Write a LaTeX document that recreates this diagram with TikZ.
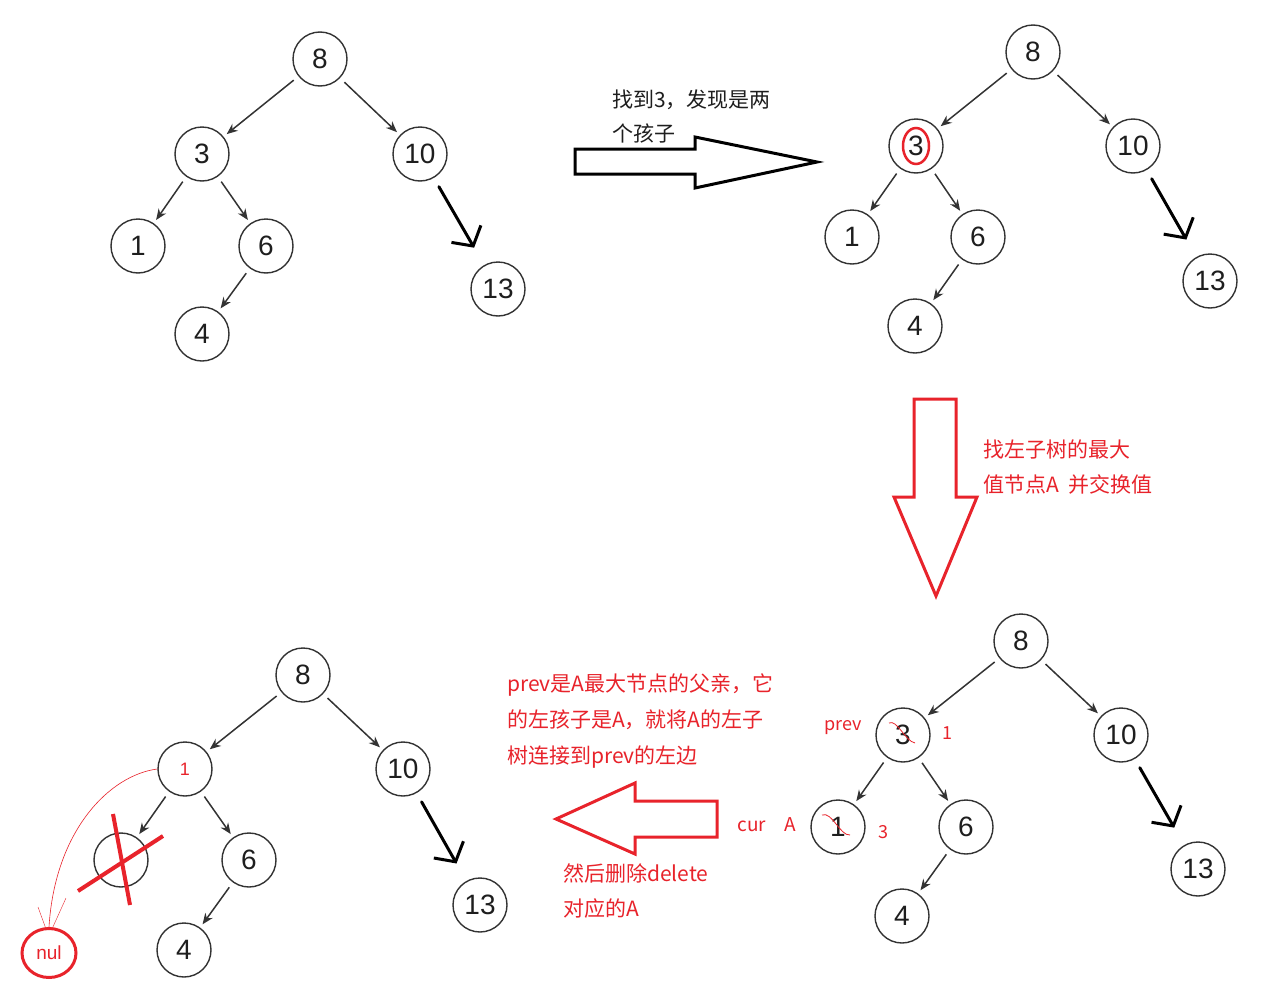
\documentclass[tikz,border=0pt]{standalone}
\usepackage{fontspec}
\setmainfont{Liberation Sans}
\newfontfamily\cjk{Noto Sans CJK SC}
\usetikzlibrary{arrows.meta,shapes.geometric}
\definecolor{redm}{HTML}{E8232B}
\definecolor{ink}{HTML}{333333}
\definecolor{txt}{HTML}{1E1E1E}
\tikzset{
  tn/.style={circle,draw=ink,line width=1.4pt,minimum size=54pt,inner sep=0pt,
    font=\fontsize{28}{30}\selectfont,text=txt},
  te/.style={draw=ink,line width=1.5pt,-{Stealth[length=11pt,width=9pt]},
    shorten <=6pt,shorten >=4pt},
  hand/.style={draw=black,line width=3pt,line cap=round,
    -{Straight Barb[length=14pt,width=34pt,line width=3pt]}},
  note/.style={anchor=west,inner sep=0pt,font=\cjk\fontsize{21}{23}\selectfont},
  rnote/.style={note,text=redm},
  bnote/.style={note,text=txt},
  small/.style={inner sep=0pt,font=\cjk\fontsize{18}{20}\selectfont,text=redm},
  bigarrow/.style={line width=3pt,line join=miter},
}
\begin{document}
\begin{tikzpicture}[x=1pt,y=-1pt]
\useasboundingbox (0,0) rectangle (1278,988);
\fill[white] (0,0) rectangle (1278,988);

% ---------- tree 1 (top left) ----------
\node[tn] (a8)  at (320,59) {8};
\node[tn] (a3)  at (202,154) {3};
\node[tn] (a10) at (420,154) {10};
\node[tn] (a1)  at (138,246) {1};
\node[tn] (a6)  at (266,246) {6};
\node[tn] (a4)  at (202,334) {4};
\node[tn] (a13) at (498,289) {13};
\draw[te] (a8) -- (a3);
\draw[te] (a8) -- (a10);
\draw[te] (a3) -- (a1);
\draw[te] (a3) -- (a6);
\draw[te] (a6) -- (a4);
\draw[hand,shorten <=10pt,shorten >=20pt] (a10) -- (a13);

% ---------- top arrow ----------
\draw[bigarrow,black] (575,149) -- (695,149) -- (695,137) -- (817,162)
  -- (695,188) -- (695,174) -- (575,174) -- cycle;
\node[bnote] (t1) at (612,100) {找到3，发现是两};
\node[bnote] (t2) at (612,133) {个孩子};

% ---------- tree 2 (top right) ----------
\node[tn] (b8)  at (1033,52) {8};
\node[tn] (b3)  at (916,146) {3};
\node[tn] (b10) at (1133,146) {10};
\node[tn] (b1)  at (852,237) {1};
\node[tn] (b6)  at (978,237) {6};
\node[tn] (b4)  at (915,326) {4};
\node[tn] (b13) at (1210,281) {13};
\draw[te] (b8) -- (b3);
\draw[te] (b8) -- (b10);
\draw[te] (b3) -- (b1);
\draw[te] (b3) -- (b6);
\draw[te] (b6) -- (b4);
\draw[hand,shorten <=10pt,shorten >=20pt] (b10) -- (b13);
\draw[redm,line width=2.5pt] (b3) ellipse [x radius=13pt,y radius=18pt];

% ---------- red down arrow ----------
\draw[bigarrow,redm] (914,399) -- (956,399) -- (956,497) -- (977,497)
  -- (936,596) -- (894,497) -- (914,497) -- cycle;
\node[rnote] (t3) at (983,449) {找左子树的最大};
\node[rnote] (t4) at (983,484) {值节点A\hspace{10pt}并交换值};

% ---------- tree 3 (bottom right) ----------
\node[tn] (c8)  at (1021,641) {8};
\node[tn] (c3)  at (903,735) {3};
\node[tn] (c10) at (1121,735) {10};
\node[tn] (c1)  at (838,827) {1};
\node[tn] (c6)  at (966,827) {6};
\node[tn] (c4)  at (902,916) {4};
\node[tn] (c13) at (1198,869) {13};
\draw[te] (c8) -- (c3);
\draw[te] (c8) -- (c10);
\draw[te] (c3) -- (c1);
\draw[te] (c3) -- (c6);
\draw[te] (c6) -- (c4);
\draw[hand,shorten <=10pt,shorten >=20pt] (c10) -- (c13);
\draw[redm,line width=0.8pt] (889,723) .. controls (897,719) and (905,741) .. (915,743);
\draw[redm,line width=0.8pt] (822,815) .. controls (832,811) and (840,836) .. (850,835);
\node[small] (lprev) at (843,728) {prev};
\node[small] (l1) at (947,733) {1};
\node[small] (l3) at (883,832) {3};

% ---------- red left arrow ----------
\draw[bigarrow,redm] (717,801) -- (635,801) -- (635,783) -- (556,819)
  -- (635,854) -- (635,837) -- (717,837) -- cycle;
\node[rnote] (t5) at (507,685) {prev是A最大节点的父亲，它};
\node[rnote] (t6) at (507,720) {的左孩子是A，就将A的左子};
\node[rnote] (t7) at (507,757) {树连接到prev的左边};
\node[small,font=\cjk\fontsize{19}{21}\selectfont] (lcur) at (752,826) {cur};
\node[small,font=\cjk\fontsize{19}{21}\selectfont] (lA) at (790,825) {A};
\node[rnote] (t8) at (563,873) {然后删除delete};
\node[rnote] (t9) at (563,909) {对应的A};

% ---------- tree 4 (bottom left) ----------
\node[tn] (d8)  at (303,675) {8};
\node[tn,text=redm,font=\fontsize{18}{20}\selectfont] (d1)  at (185,769) {1};
\node[tn] (d10) at (403,769) {10};
\node[tn] (dx)  at (121,860) {};
\node[tn] (d6)  at (249,860) {6};
\node[tn] (d4)  at (184,950) {4};
\node[tn] (d13) at (480,905) {13};
\draw[te] (d8) -- (d1);
\draw[te] (d8) -- (d10);
\draw[te] (d1) -- (dx);
\draw[te] (d1) -- (d6);
\draw[te] (d6) -- (d4);
\draw[hand,shorten <=10pt,shorten >=20pt] (d10) -- (d13);
\draw[redm,line width=4pt] (113,814) -- (130,905);
\draw[redm,line width=4pt] (163,836) -- (78,891);
\node[ellipse,draw=redm,line width=3pt,minimum width=54pt,minimum height=49pt,
  inner sep=0pt,font=\fontsize{19}{21}\selectfont,text=redm] (nul) at (49,953) {nul};
\draw[redm,line width=0.6pt] (d1.west) .. controls (110,775) and (55,830) .. (nul.north);
\draw[redm,line width=0.4pt] (38,907) -- (46,929);
\draw[redm,line width=0.4pt] (66,898) -- (52,929);
\end{tikzpicture}
\end{document}
